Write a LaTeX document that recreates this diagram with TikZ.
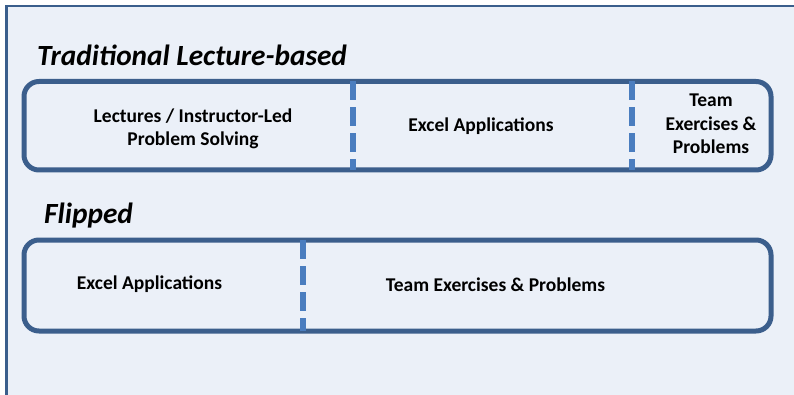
\documentclass[tikz,border=0pt]{standalone}
\usepackage{fontspec}
\setmainfont{Carlito}
\usepackage{xcolor}
\usepackage{tikz}
\usetikzlibrary{positioning}

\definecolor{panelbg}{HTML}{EBF0F8}
\definecolor{framecol}{HTML}{3A5E8C}
\definecolor{boxcol}{HTML}{3B5E8C}
\definecolor{splitcol}{HTML}{4A7DBF}

\begin{document}
\begin{tikzpicture}[x=1pt, y=-1pt,
  every node/.style={font=\fontsize{19.5}{23.5}\selectfont\bfseries, text=black},
  heading/.style={font=\fontsize{29.3}{32}\selectfont\bfseries\itshape, anchor=base west, inner sep=0pt},
  lane/.style={draw=boxcol, line width=5pt, rounded corners=15pt, minimum width=747pt, inner sep=0pt},
  split/.style={draw=splitcol, line width=6pt, dash pattern=on 19pt off 7pt},
  part/.style={align=center, inner sep=0pt}]
  \useasboundingbox (0,0) rectangle (794,395);
  \fill[white] (0,0) rectangle (794,395);
  \fill[panelbg] (6.7,6) rectangle (794,395);
  \draw[framecol, line width=2.5pt] (794,6) -- (6.7,6) -- (6.7,395);

  % traditional format
  \node[heading] (tradtitle) at (37,66) {Traditional Lecture-based};
  \node[lane, minimum height=88.5pt] (trad) at (397.5,125.75) {};
  \node[part] (lect) at (193,129) {Lectures / Instructor-Led\\Problem Solving};
  \node[part] (excelA) at (481,126) {Excel Applications};
  \node[part] (teamA) at (711,124) {Team\\Exercises \&\\Problems};
  \coordinate (s1top) at (352.5,81.5);
  \coordinate (s1bot) at (352.5,170);
  \coordinate (s2top) at (631.5,81.5);
  \coordinate (s2bot) at (631.5,170);
  \draw[split] (s1top) -- (s1bot);
  \draw[split] (s2top) -- (s2bot);

  % flipped format
  \node[heading] (fliptitle) at (44,224) {Flipped};
  \node[lane, minimum height=91pt] (flip) at (397.5,285.5) {};
  \node[part] (excelB) at (149.5,284.5) {Excel Applications};
  \node[part] (teamB) at (495.5,284.5) {Team Exercises \& Problems};
  \coordinate (s3top) at (303,240);
  \coordinate (s3bot) at (303,331);
  \draw[split] (s3top) -- (s3bot);
\end{tikzpicture}
\end{document}
